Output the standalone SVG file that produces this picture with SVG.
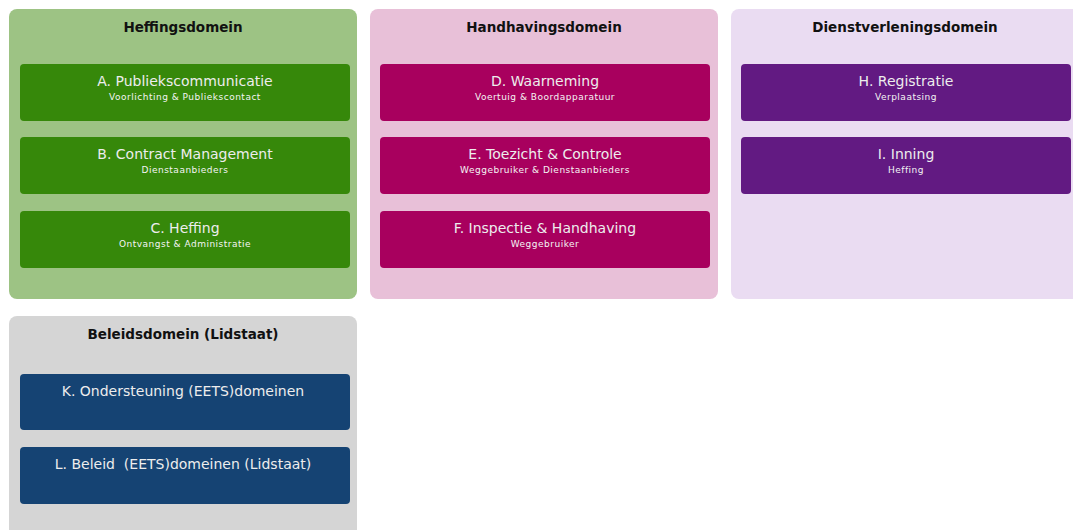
<svg xmlns="http://www.w3.org/2000/svg" width="1073" height="530" viewBox="0 0 1073 530">
<style>
.dom{font-family:"DejaVu Sans",Verdana,sans-serif;font-weight:bold;font-size:13.5px;fill:#111;text-anchor:middle}
.t{font-family:"DejaVu Sans",Verdana,sans-serif;font-size:14px;fill:#EDEDED;text-anchor:middle}
.s{font-family:"DejaVu Sans",Verdana,sans-serif;font-size:9px;letter-spacing:0.5px;fill:#F4F4F4;text-anchor:middle}
.g1{fill:#9DC384}.b1{fill:#36880A}
.g2{fill:#E8C0D8}.b2{fill:#A8005E}
.g3{fill:#EADCF2}.b3{fill:#621A82}
.g4{fill:#D5D5D5}.b4{fill:#154373}
</style>
<rect width="1073" height="530" fill="#FFFFFF"/>
<g id="heffingsdomein">
<rect class="g1" x="9" y="9" width="348" height="290" rx="8"/>
<text class="dom" x="183" y="32">Heffingsdomein</text>
</g>
<g id="handhavingsdomein">
<rect class="g2" x="370" y="9" width="348" height="290" rx="8"/>
<text class="dom" x="544" y="32">Handhavingsdomein</text>
</g>
<g id="dienstverleningsdomein">
<rect class="g3" x="731" y="9" width="352" height="290" rx="8"/>
<text class="dom" x="905" y="32">Dienstverleningsdomein</text>
</g>
<g id="beleidsdomein">
<rect class="g4" x="9" y="316" width="348" height="224" rx="8"/>
<text class="dom" x="183" y="339">Beleidsdomein (Lidstaat)</text>
</g>
<g id="A">
<rect class="b1" x="20" y="64" width="330" height="57" rx="4"/>
<text class="t" x="185" y="86">A. Publiekscommunicatie</text>
<text class="s" x="185" y="100">Voorlichting &amp; Publiekscontact</text>
</g>
<g id="B">
<rect class="b1" x="20" y="137" width="330" height="57" rx="4"/>
<text class="t" x="185" y="159">B. Contract Management</text>
<text class="s" x="185" y="173">Dienstaanbieders</text>
</g>
<g id="C">
<rect class="b1" x="20" y="211" width="330" height="57" rx="4"/>
<text class="t" x="185" y="233">C. Heffing</text>
<text class="s" x="185" y="247">Ontvangst &amp; Administratie</text>
</g>
<g id="D">
<rect class="b2" x="380" y="64" width="330" height="57" rx="4"/>
<text class="t" x="545" y="86">D. Waarneming</text>
<text class="s" x="545" y="100">Voertuig &amp; Boordapparatuur</text>
</g>
<g id="E">
<rect class="b2" x="380" y="137" width="330" height="57" rx="4"/>
<text class="t" x="545" y="159">E. Toezicht &amp; Controle</text>
<text class="s" x="545" y="173">Weggebruiker &amp; Dienstaanbieders</text>
</g>
<g id="F">
<rect class="b2" x="380" y="211" width="330" height="57" rx="4"/>
<text class="t" x="545" y="233">F. Inspectie &amp; Handhaving</text>
<text class="s" x="545" y="247">Weggebruiker</text>
</g>
<g id="H">
<rect class="b3" x="741" y="64" width="330" height="57" rx="4"/>
<text class="t" x="906" y="86">H. Registratie</text>
<text class="s" x="906" y="100">Verplaatsing</text>
</g>
<g id="I">
<rect class="b3" x="741" y="137" width="330" height="57" rx="4"/>
<text class="t" x="906" y="159">I. Inning</text>
<text class="s" x="906" y="173">Heffing</text>
</g>
<g id="K">
<rect class="b4" x="20" y="374" width="330" height="56" rx="4"/>
<text class="t" x="183" y="396">K. Ondersteuning (EETS)domeinen</text>
</g>
<g id="L">
<rect class="b4" x="20" y="447" width="330" height="57" rx="4"/>
<text class="t" x="183" y="469" xml:space="preserve">L. Beleid  (EETS)domeinen (Lidstaat)</text>
</g>
<g id="connectors"/>
</svg>
